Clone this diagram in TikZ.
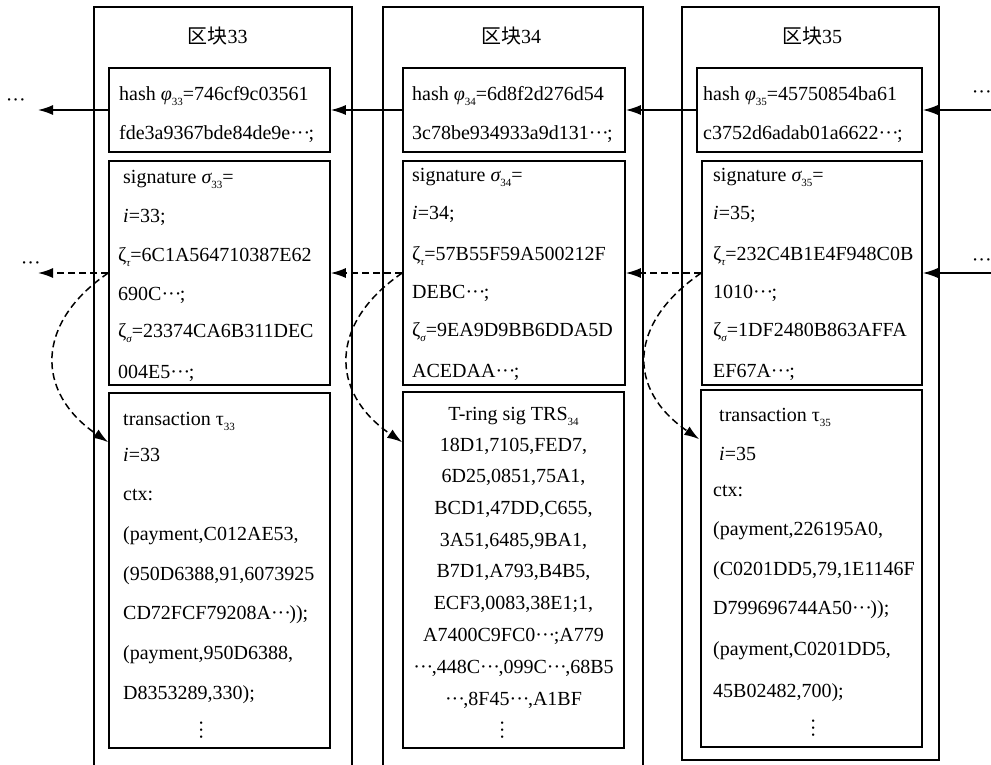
\documentclass[tikz,border=0pt]{standalone}
\usepackage{fontspec}
\setmainfont{Liberation Serif}
\newfontfamily\cjk{Noto Sans CJK SC}
\usetikzlibrary{arrows.meta,calc}
\newcommand\mysub[1]{\raisebox{-0.25em}{\fontsize{11}{11}\selectfont #1}}
\newcommand\dd{\makebox[0.92em][s]{·\hfil·\hfil·}}
\newcommand\vdd{\rotatebox{90}{\dd}}
\newcommand\mainsize{\fontsize{20}{24}\selectfont}
\tikzset{
  box/.style={draw, line width=1.6pt, inner sep=0pt},
  outerbox/.style={draw, line width=1.8pt},
  txt/.style={anchor=base west, inner sep=0pt, font=\mainsize},
  ctxt/.style={anchor=base, inner sep=0pt, font=\mainsize},
  ttl/.style={anchor=base, inner sep=0pt, font=\mainsize\cjk},
  arr/.style={line width=1.5pt, -{Latex[length=15pt,width=10pt]}},
  darr/.style={arr, dash pattern=on 7pt off 4pt},
  dotsnode/.style={inner sep=0pt, font=\mainsize}
}
\begin{document}
\begin{tikzpicture}[x=1pt,y=-1pt]
\useasboundingbox (0,0) rectangle (991,764);
% outer blocks
\draw[outerbox] (94,7) -- (352,7); \draw[outerbox] (94,6.1) -- (94,790); \draw[outerbox] (352,6.1) -- (352,790);
\draw[outerbox] (383,7) -- (643,7); \draw[outerbox] (383,6.1) -- (383,790); \draw[outerbox] (643,6.1) -- (643,790);
\draw[outerbox] (682,7) rectangle (939,760);
% titles
\node[ttl] (t1) at (217.5,43) {区块{\rmfamily 33}};
\node[ttl] (t2) at (511,43) {区块{\rmfamily 34}};
\node[ttl] (t3) at (812,43) {区块{\rmfamily 35}};
% hash boxes
\node[box, minimum width=221pt, minimum height=84pt] (h33) at (219.5,110) {};
\node[box, minimum width=222pt, minimum height=84pt] (h34) at (514,110) {};
\node[box, minimum width=225pt, minimum height=84pt] (h35) at (809.5,110) {};
% signature boxes
\node[box, minimum width=221pt, minimum height=224pt] (s33) at (219.5,273) {};
\node[box, minimum width=222pt, minimum height=224pt] (s34) at (514,273) {};
\node[box, minimum width=220pt, minimum height=224pt] (s35) at (812,273) {};
% transaction boxes
\node[box, minimum width=221pt, minimum height=355pt] (x33) at (219.5,570.5) {};
\node[box, minimum width=221pt, minimum height=356pt] (x34) at (513.5,570) {};
\node[box, minimum width=221pt, minimum height=357pt] (x35) at (811.5,568.5) {};
% hash texts
\node[txt] (h33a) at (119,100) {hash {\itshape φ}\mysub{33}=746cf9c03561};
\node[txt] (h33b) at (119,139) {fde3a9367bde84de9e\dd;};
\node[txt] (h34a) at (412,100) {hash {\itshape φ}\mysub{34}=6d8f2d276d54};
\node[txt] (h34b) at (412,139) {3c78be934933a9d131\dd;};
\node[txt] (h35a) at (703,100) {hash {\itshape φ}\mysub{35}=45750854ba61};
\node[txt] (h35b) at (703,139) {c3752d6adab01a6622\dd;};
% signature texts 33
\node[txt] (s33a) at (123,183) {signature {\itshape σ}\mysub{33}=};
\node[txt] (s33b) at (123,222) {{\itshape i}=33;};
\node[txt] (s33c) at (118,261) {ζ\mysub{\itshape τ}=6C1A564710387E62};
\node[txt] (s33d) at (118,300) {690C\dd;};
\node[txt] (s33e) at (118,337) {ζ\mysub{\itshape σ}=23374CA6B311DEC};
\node[txt] (s33f) at (118,378) {004E5\dd;};
% signature texts 34
\node[txt] (s34a) at (412,181) {signature {\itshape σ}\mysub{34}=};
\node[txt] (s34b) at (412,219) {{\itshape i}=34;};
\node[txt] (s34c) at (412,260) {ζ\mysub{\itshape τ}=57B55F59A500212F};
\node[txt] (s34d) at (412,298) {DEBC\dd;};
\node[txt] (s34e) at (412,336) {ζ\mysub{\itshape σ}=9EA9D9BB6DDA5D};
\node[txt] (s34f) at (412,377) {ACEDAA\dd;};
% signature texts 35
\node[txt] (s35a) at (713,181) {signature {\itshape σ}\mysub{35}=};
\node[txt] (s35b) at (713,219) {{\itshape i}=35;};
\node[txt] (s35c) at (713,260) {ζ\mysub{\itshape τ}=232C4B1E4F948C0B};
\node[txt] (s35d) at (713,298) {1010\dd;};
\node[txt] (s35e) at (713,336) {ζ\mysub{\itshape σ}=1DF2480B863AFFA};
\node[txt] (s35f) at (713,377) {EF67A\dd;};
% transaction 33
\node[txt] (x33a) at (123,425) {transaction τ\mysub{33}};
\node[txt] (x33b) at (123,461) {{\itshape i}=33};
\node[txt] (x33c) at (123,500) {ctx:};
\node[txt] (x33d) at (123,540) {(payment,C012AE53,};
\node[txt] (x33e) at (123,580) {(950D6388,91,6073925};
\node[txt] (x33f) at (123,619) {CD72FCF79208A\dd));};
\node[txt] (x33g) at (123,659) {(payment,950D6388,};
\node[txt] (x33h) at (123,699) {D8353289,330);};
\node[dotsnode] (x33i) at (204,731) {\vdd};
% TRS 34
\node[ctxt] (x34a) at (513.5,420) {T-ring sig TRS\mysub{34}};
\node[ctxt] (x34b) at (513.5,451) {18D1,7105,FED7,};
\node[ctxt] (x34c) at (513.5,482) {6D25,0851,75A1,};
\node[ctxt] (x34d) at (513.5,514) {BCD1,47DD,C655,};
\node[ctxt] (x34e) at (513.5,546) {3A51,6485,9BA1,};
\node[ctxt] (x34f) at (513.5,577) {B7D1,A793,B4B5,};
\node[ctxt] (x34g) at (513.5,609) {ECF3,0083,38E1;1,};
\node[ctxt] (x34h) at (513.5,641) {A7400C9FC0\dd;A779};
\node[ctxt] (x34i) at (513.5,673) {\dd,448C\dd,099C\dd,68B5};
\node[ctxt] (x34j) at (513.5,705) {\dd,8F45\dd,A1BF};
\node[dotsnode] (x34k) at (505,731) {\vdd};
% transaction 35
\node[txt] (x35a) at (719,421) {transaction τ\mysub{35}};
\node[txt] (x35b) at (719,460) {{\itshape i}=35};
\node[txt] (x35c) at (713,496) {ctx:};
\node[txt] (x35d) at (713,535) {(payment,226195A0,};
\node[txt] (x35e) at (713,575) {(C0201DD5,79,1E1146F};
\node[txt] (x35f) at (713,614) {D799696744A50\dd));};
\node[txt] (x35g) at (713,655) {(payment,C0201DD5,};
\node[txt] (x35h) at (713,697) {45B02482,700);};
\node[dotsnode] (x35i) at (816,729) {\vdd};
% free ends
\coordinate (L1) at (38,110);
\coordinate (L2) at (38,273);
\coordinate (R1) at (992,110);
\coordinate (R2) at (992,273);
\node[dotsnode] (dl1) at (15,103) {\dd};
\node[dotsnode] (dl2) at (30,266) {\dd};
\node[dotsnode] (dr1) at (981,95) {\dd};
\node[dotsnode] (dr2) at (981,263) {\dd};
% hash arrows
\draw[arr] (h33.west) -- (L1);
\draw[arr] (h34.west) -- (h33.east);
\draw[arr] (h35.west) -- (h34.east);
\draw[arr] (R1) -- (h35.east);
% signature arrows
\draw[darr] (s33.west) -- (L2);
\draw[darr] (s34.west) -- (s33.east);
\draw[darr] (s35.west) -- (s34.east);
\draw[arr] (R2) -- (s35.east);
% curved dashed arrows
\coordinate (e33) at ($(x33.north west)+(0,50)$);
\coordinate (e34) at ($(x34.north west)+(0,51)$);
\coordinate (e35) at ($(x35.north west)+(-1,50)$);
\draw[darr] (s33.west) .. controls +(-73,50) and +(-73,-50) .. (e33);
\draw[darr] (s34.west) .. controls +(-73,50) and +(-73,-50) .. (e34);
\draw[darr] (s35.west) .. controls +(-73,50) and +(-73,-50) .. (e35);
\end{tikzpicture}
\end{document}
